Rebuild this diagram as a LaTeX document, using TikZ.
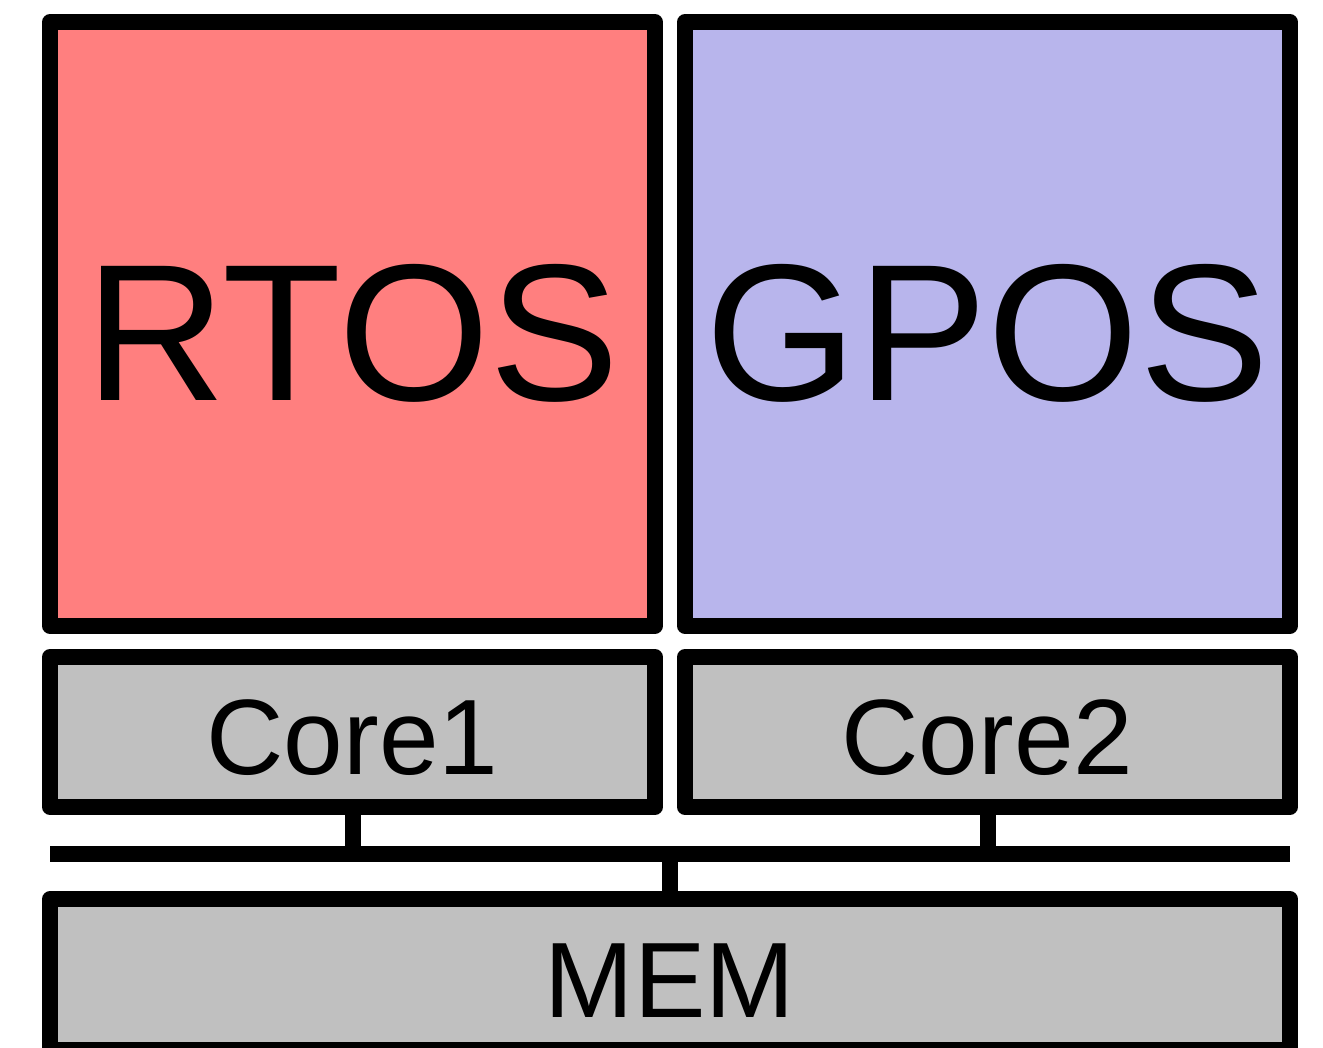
\documentclass[tikz,border=0pt]{standalone}
\usepackage{fontspec}
\setmainfont{Liberation Sans}
\usepackage{xcolor}
\definecolor{rtosred}{HTML}{FF7F7F}
\definecolor{gposblue}{HTML}{B8B5EC}
\definecolor{hwgray}{HTML}{C0C0C0}
\tikzset{
  blk/.style={draw=black, line width=0.32cm, line join=round, outer sep=0pt, inner sep=0pt},
  osbox/.style={blk, minimum width=12.1cm, minimum height=12.08cm,
    font=\fontsize{111}{120}\selectfont, text depth=0pt, text height=3.08cm},
  corebox/.style={blk, fill=hwgray, minimum width=12.1cm, minimum height=3cm,
    font=\fontsize{61}{70}\selectfont, text depth=0pt, text height=1.72cm},
  bus/.style={line width=0.32cm, line cap=butt}
}
\begin{document}
\begin{tikzpicture}[x=0.02cm,y=-0.02cm]
    \useasboundingbox (0,0) rectangle (1323,1048);
    % operating systems
    \node[osbox, fill=rtosred] (rtos) at (352.5,324) {RTOS};
    \node[osbox, fill=gposblue] (gpos) at (987.5,324) {GPOS};
    % cores
    \node[corebox] (core1) at (352.5,732) {Core1};
    \node[corebox] (core2) at (987.5,732) {Core2};
    % memory
    \node[corebox, minimum width=24.8cm, minimum height=3.02cm] (mem) at (670,974.5) {MEM};
    % bus
    \coordinate (busL) at (50,853.5);
    \coordinate (busR) at (1290,853.5);
    \draw[bus] (busL) -- (busR);
    \draw[bus] (core1.south) -- (core1.south |- busL);
    \draw[bus] (core2.south) -- (core2.south |- busL);
    \draw[bus] (mem.north) -- (mem.north |- busL);
\end{tikzpicture}
\end{document}
